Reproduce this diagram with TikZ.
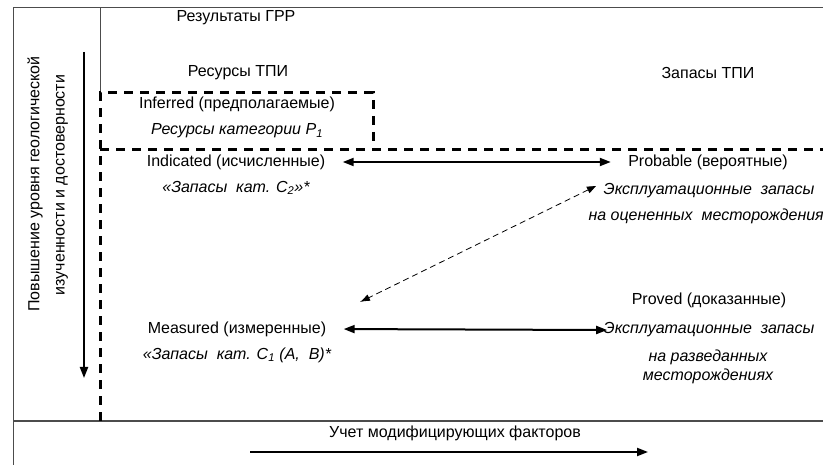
\documentclass[tikz,border=0pt]{standalone}
\usepackage{fontspec}
\setmainfont{Liberation Sans}
\usetikzlibrary{arrows.meta,positioning,calc}

\begin{document}
\begin{tikzpicture}[x=1pt,y=-1pt,
    txt/.style={font=\fontsize{16}{19}\selectfont},
    itxt/.style={font=\fontsize{16}{19}\selectfont\itshape},
    frame/.style={draw=black!70,line width=1pt},
    bound/.style={line width=3pt,dash pattern=on 9pt off 7pt},
    link/.style={line width=2pt,{Triangle[length=11pt,width=8pt]}-{Triangle[length=11pt,width=8pt]}},
    axis/.style={line width=2pt,-{Triangle[length=11pt,width=8pt]}}]
    \useasboundingbox (0,0) rectangle (823,465);
    \clip (0,0) rectangle (823,465);

    % Frame
    \draw[frame] (13,465) -- (13,8) -- (823,8);
    \draw[frame] (13,421) -- (823,421);
    \draw[frame] (100,8) -- (100,93);

    % Boundaries
    \draw[bound] (100,421) -- (100,93) -- (373,93) -- (373,150);
    \draw[bound] (100,150) -- (823,150);

    % Headings
    \node[txt] (grr) at (236,18) {Результаты ГРР};
    \node[txt] (res) at (238,73) {Ресурсы ТПИ};
    \node[txt] (zap) at (708,73) {Запасы ТПИ};

    % Vertical axis
    \coordinate (vtop) at (84,52);
    \coordinate (vbot) at (84,378);
    \draw[axis] (vtop) -- (vbot);
    \node[txt,rotate=90] (ax1) at (35,184) {Повышение уровня геологической};
    \node[txt,rotate=90] (ax2) at (62,185) {изученности и достоверности};

    % Resources
    \node[txt] (inf) at (237,104) {Inferred (предполагаемые)};
    \node[itxt] (infc) at (237,131) {Ресурсы категории P\textsubscript{1}};
    \node[txt] (ind) at (236,162) {Indicated (исчисленные)};
    \node[itxt] (indc) at (236,188) {«Запасы~ кат. C\textsubscript{2}»*};
    \node[txt] (meas) at (237,329) {Measured (измеренные)};
    \node[itxt] (measc) at (237,355) {«Запасы~ кат. C\textsubscript{1} (A,~ B)*};

    % Reserves
    \node[txt] (prob) at (708,162) {Probable (вероятные)};
    \node[itxt] (probe) at (709,191) {Эксплуатационные~ запасы};
    \node[itxt,anchor=west] (probn) at (585,216) {на оцененных~ месторождениях};
    \node[txt] (prov) at (709,300) {Proved (доказанные)};
    \node[itxt] (prove) at (709,330) {Эксплуатационные~ запасы};
    \node[itxt,align=center,font=\fontsize{16}{19}\selectfont\itshape] (provn) at (708,367) {на разведанных\\месторождениях};

    % Links
    \draw[link,shorten <=14pt,shorten >=14pt] (ind.east) -- (prob.west);
    \draw[link,shorten <=14pt,shorten >=-7pt] (meas.east) -- (prove.west);
    \coordinate (dtop) at (596,186);
    \coordinate (dbot) at (360,302);
    \draw[line width=0.8pt,dash pattern=on 6pt off 4pt,{Triangle[length=9pt,width=7pt]}-{Latex[length=10pt,width=7pt]}] (dtop) -- (dbot);

    % Modifying factors
    \node[txt] (mod) at (455,433) {Учет модифицирующих факторов};
    \coordinate (hl) at (250,452);
    \coordinate (hr) at (648,452);
    \draw[axis] (hl) -- (hr);
\end{tikzpicture}
\end{document}
